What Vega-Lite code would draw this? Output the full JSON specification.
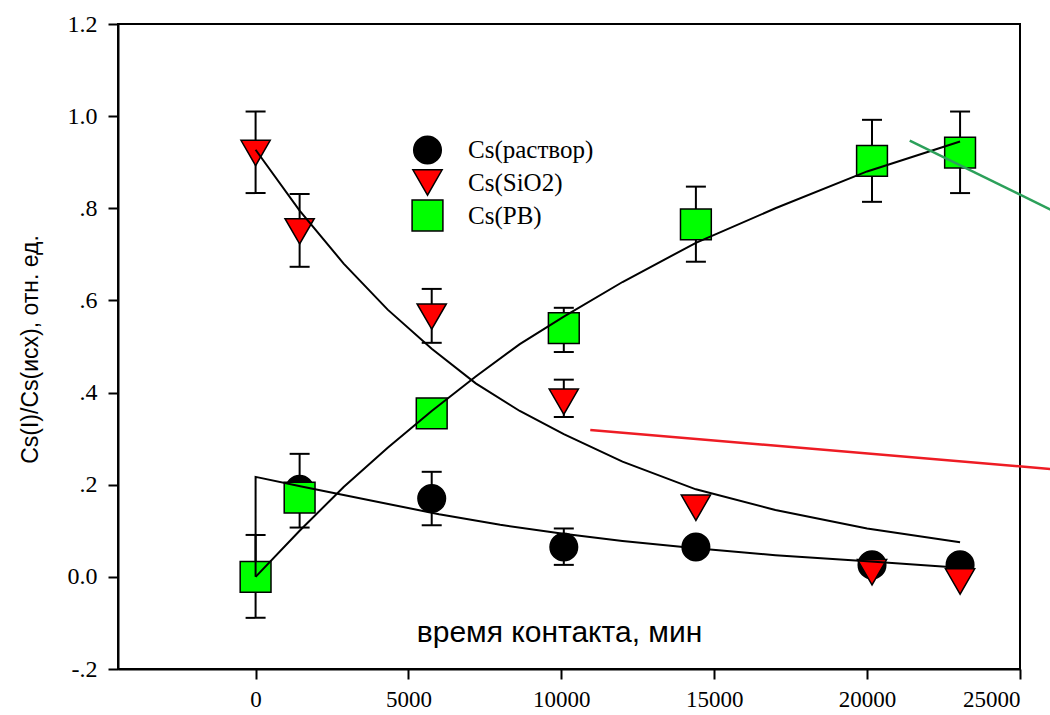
{
  "$schema": "https://vega.github.io/schema/vega-lite/v6.json",
  "width": 902,
  "height": 645,
  "autosize": {"type": "none"},
  "padding": {"left": 118, "top": 24, "right": 30, "bottom": 46},
  "background": "white",
  "config": {
    "view": {"stroke": "black", "strokeWidth": 2},
    "axis": {
      "domainColor": "black", "domainWidth": 2,
      "tickColor": "black", "tickWidth": 2, "tickSize": 10,
      "grid": false,
      "labelFont": "Liberation Serif", "labelFontSize": 23, "labelColor": "black", "labelPadding": 6,
      "titleFont": "Liberation Sans", "titleFontWeight": "normal", "titleColor": "black"
    }
  },
  "datasets": {
    "pts": [
      {"s": "Cs(раствор)", "t": 0, "y": 0.0},
      {"s": "Cs(раствор)", "t": 1440, "y": 0.19},
      {"s": "Cs(раствор)", "t": 5760, "y": 0.17},
      {"s": "Cs(раствор)", "t": 10080, "y": 0.065},
      {"s": "Cs(раствор)", "t": 14400, "y": 0.065},
      {"s": "Cs(раствор)", "t": 20160, "y": 0.026},
      {"s": "Cs(раствор)", "t": 23040, "y": 0.026},
      {"s": "Cs(SiO2)", "t": 0, "y": 0.92},
      {"s": "Cs(SiO2)", "t": 1440, "y": 0.75},
      {"s": "Cs(SiO2)", "t": 5760, "y": 0.565},
      {"s": "Cs(SiO2)", "t": 10080, "y": 0.38},
      {"s": "Cs(SiO2)", "t": 14400, "y": 0.15},
      {"s": "Cs(SiO2)", "t": 20160, "y": 0.01},
      {"s": "Cs(SiO2)", "t": 23040, "y": -0.01},
      {"s": "Cs(PB)", "t": 0, "y": 0.0},
      {"s": "Cs(PB)", "t": 1440, "y": 0.172},
      {"s": "Cs(PB)", "t": 5760, "y": 0.355},
      {"s": "Cs(PB)", "t": 10080, "y": 0.54},
      {"s": "Cs(PB)", "t": 14400, "y": 0.765},
      {"s": "Cs(PB)", "t": 20160, "y": 0.903},
      {"s": "Cs(PB)", "t": 23040, "y": 0.921}
    ],
    "err": [
      {"t": 0, "lo": -0.089, "hi": 0.091},
      {"t": 1440, "lo": 0.107, "hi": 0.267},
      {"t": 5760, "lo": 0.112, "hi": 0.228},
      {"t": 10080, "lo": 0.026, "hi": 0.105},
      {"t": 0, "lo": 0.833, "hi": 1.01},
      {"t": 1440, "lo": 0.673, "hi": 0.831},
      {"t": 5760, "lo": 0.508, "hi": 0.625},
      {"t": 10080, "lo": 0.347, "hi": 0.428},
      {"t": 10080, "lo": 0.488, "hi": 0.584},
      {"t": 14400, "lo": 0.684, "hi": 0.847},
      {"t": 20160, "lo": 0.814, "hi": 0.992},
      {"t": 23040, "lo": 0.833, "hi": 1.01}
    ],
    "fit": [
      {"c": "sol", "i": 0, "t": 0, "y": 0.0},
      {"c": "sol", "i": 1, "t": 0, "y": 0.217},
      {"c": "sol", "i": 2, "t": 1500, "y": 0.196},
      {"c": "sol", "i": 3, "t": 3000, "y": 0.176},
      {"c": "sol", "i": 4, "t": 4500, "y": 0.156},
      {"c": "sol", "i": 5, "t": 6000, "y": 0.136},
      {"c": "sol", "i": 6, "t": 8000, "y": 0.113},
      {"c": "sol", "i": 7, "t": 10000, "y": 0.094},
      {"c": "sol", "i": 8, "t": 12000, "y": 0.078},
      {"c": "sol", "i": 9, "t": 14400, "y": 0.062},
      {"c": "sol", "i": 10, "t": 17000, "y": 0.047},
      {"c": "sol", "i": 11, "t": 20000, "y": 0.034},
      {"c": "sol", "i": 12, "t": 23040, "y": 0.02},
      {"c": "sio", "i": 0, "t": 0, "y": 0.927},
      {"c": "sio", "i": 1, "t": 1440, "y": 0.795},
      {"c": "sio", "i": 2, "t": 2880, "y": 0.68},
      {"c": "sio", "i": 3, "t": 4320, "y": 0.58},
      {"c": "sio", "i": 4, "t": 5760, "y": 0.495},
      {"c": "sio", "i": 5, "t": 7200, "y": 0.42},
      {"c": "sio", "i": 6, "t": 8640, "y": 0.36},
      {"c": "sio", "i": 7, "t": 10080, "y": 0.31},
      {"c": "sio", "i": 8, "t": 12000, "y": 0.25},
      {"c": "sio", "i": 9, "t": 14400, "y": 0.19},
      {"c": "sio", "i": 10, "t": 17000, "y": 0.145},
      {"c": "sio", "i": 11, "t": 20000, "y": 0.105},
      {"c": "sio", "i": 12, "t": 23040, "y": 0.075},
      {"c": "pb", "i": 0, "t": 0, "y": 0.0},
      {"c": "pb", "i": 1, "t": 1440, "y": 0.1},
      {"c": "pb", "i": 2, "t": 2880, "y": 0.195},
      {"c": "pb", "i": 3, "t": 4320, "y": 0.28},
      {"c": "pb", "i": 4, "t": 5760, "y": 0.36},
      {"c": "pb", "i": 5, "t": 7200, "y": 0.435},
      {"c": "pb", "i": 6, "t": 8640, "y": 0.505},
      {"c": "pb", "i": 7, "t": 10080, "y": 0.565},
      {"c": "pb", "i": 8, "t": 12000, "y": 0.64},
      {"c": "pb", "i": 9, "t": 14400, "y": 0.725},
      {"c": "pb", "i": 10, "t": 17000, "y": 0.8},
      {"c": "pb", "i": 11, "t": 20000, "y": 0.88},
      {"c": "pb", "i": 12, "t": 23040, "y": 0.945}
    ],
    "ann": [
      {"c": "g", "i": 0, "t": 21394, "y": 0.947},
      {"c": "g", "i": 1, "t": 25998, "y": 0.797},
      {"c": "r", "i": 0, "t": 10946, "y": 0.319},
      {"c": "r", "i": 1, "t": 25998, "y": 0.234}
    ]
  },
  "encoding": {
    "x": {
      "field": "t", "type": "quantitative",
      "scale": {"domain": [-4500, 25000], "nice": false, "zero": false},
      "axis": {
        "values": [0, 5000, 10000, 15000, 20000, 25000],
        "format": "d",
        "labelPadding": 9,
        "title": "время контакта, мин",
        "titleFontSize": 30,
        "titleX": 441, "titleY": -37, "titleAlign": "center", "titleBaseline": "middle", "titleAnchor": null
      }
    },
    "y": {
      "field": "y", "type": "quantitative",
      "scale": {"domain": [-0.2, 1.2], "nice": false, "zero": false},
      "axis": {
        "values": [-0.2, 0, 0.2, 0.4, 0.6, 0.8, 1.0, 1.2],
        "labelExpr": "abs(datum.value) < 1e-9 ? '0.0' : (datum.value < 0 ? '-' + replace(format(-datum.value, '.1f'), '0.', '.') : replace(format(datum.value, '.1f'), '0.', '.'))",
        "labelFontSize": 24,
        "labelPadding": 11,
        "title": "Cs(I)/Cs(исх), отн. ед.",
        "titleFontSize": 23,
        "titleX": -76, "titleY": 325, "titleAlign": "center", "titleBaseline": "bottom", "titleAngle": -90
      }
    }
  },
  "layer": [
    {
      "data": {"name": "err"},
      "mark": {"type": "rule", "color": "black", "strokeWidth": 2},
      "encoding": {
        "y": {"field": "lo", "type": "quantitative", "title": "Cs(I)/Cs(исх), отн. ед."},
        "y2": {"field": "hi"}
      }
    },
    {
      "data": {"name": "err"},
      "mark": {"type": "tick", "orient": "horizontal", "color": "black", "size": 20, "thickness": 2, "opacity": 1},
      "encoding": {
        "y": {"field": "lo", "type": "quantitative", "title": "Cs(I)/Cs(исх), отн. ед."}
      }
    },
    {
      "data": {"name": "err"},
      "mark": {"type": "tick", "orient": "horizontal", "color": "black", "size": 20, "thickness": 2, "opacity": 1},
      "encoding": {
        "y": {"field": "hi", "type": "quantitative", "title": "Cs(I)/Cs(исх), отн. ед."}
      }
    },
    {
      "data": {"name": "pts"},
      "mark": {"type": "point", "filled": true, "opacity": 1, "stroke": "black", "strokeWidth": 1.5},
      "encoding": {
        "color": {
          "field": "s", "type": "nominal",
          "scale": {"domain": ["Cs(раствор)", "Cs(SiO2)", "Cs(PB)"], "range": ["#000000", "#ff0000", "#00ff00"]},
          "legend": {
            "orient": "none", "legendX": 293, "legendY": 111, "title": null, "padding": 0,
            "labelFont": "Liberation Serif", "labelFontSize": 25, "labelColor": "black",
            "symbolSize": 850, "symbolStrokeColor": "black", "symbolStrokeWidth": 1.5,
            "labelOffset": 24, "rowPadding": -3.5
          }
        },
        "shape": {
          "field": "s", "type": "nominal",
          "scale": {"domain": ["Cs(раствор)", "Cs(SiO2)", "Cs(PB)"], "range": ["circle", "triangle-down", "square"]},
          "legend": {
            "orient": "none", "legendX": 293, "legendY": 111, "title": null, "padding": 0,
            "labelFont": "Liberation Serif", "labelFontSize": 25, "labelColor": "black",
            "symbolSize": 850, "symbolStrokeColor": "black", "symbolStrokeWidth": 1.5,
            "labelOffset": 24, "rowPadding": -3.5
          }
        },
        "size": {
          "field": "s", "type": "nominal",
          "scale": {"domain": ["Cs(раствор)", "Cs(SiO2)", "Cs(PB)"], "range": [760, 950, 700]},
          "legend": null
        }
      }
    },
    {
      "data": {"name": "fit"},
      "mark": {"type": "line", "color": "black", "strokeWidth": 2},
      "encoding": {
        "detail": {"field": "c", "type": "nominal"},
        "order": {"field": "i", "type": "quantitative"}
      }
    },
    {
      "data": {"name": "ann"},
      "mark": {"type": "line", "strokeWidth": 2.5},
      "encoding": {
        "stroke": {
          "field": "c", "type": "nominal",
          "scale": {"domain": ["g", "r"], "range": ["#2ca05a", "#ee1c24"]},
          "legend": null
        },
        "order": {"field": "i", "type": "quantitative"}
      }
    }
  ]
}
